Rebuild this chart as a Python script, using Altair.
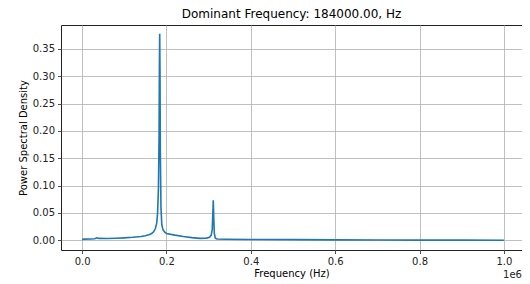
import altair as alt
import pandas as pd

freq_hz = [0, 5000, 20000, 30000, 35000, 40000, 60000, 80000, 100000, 120000,
           140000, 150000, 160000, 165000, 170000, 174000, 177000, 179000, 181000,
           182500, 183300, 184000, 184700, 185500, 187000, 189000, 192000, 196000,
           200000, 220000, 240000, 260000, 280000, 295000, 302000, 306000, 308500,
           310000, 311000, 312000, 313500, 316000, 320000, 340000, 400000, 500000,
           600000, 700000, 800000, 900000, 1000000]
psd = [0.0018, 0.0022, 0.0025, 0.0030, 0.0045, 0.0035, 0.0034, 0.0038, 0.0045, 0.0055,
       0.0070, 0.0082, 0.0105, 0.0125, 0.0160, 0.0220, 0.0320, 0.0500, 0.0950,
       0.1900, 0.3200, 0.3776, 0.3100, 0.1600, 0.0600, 0.0280, 0.0190, 0.0150,
       0.0125, 0.0095, 0.0070, 0.0050, 0.0035, 0.0040, 0.0055, 0.0090, 0.0200,
       0.0500, 0.0730, 0.0450, 0.0120, 0.0040, 0.0025, 0.0020, 0.0015, 0.0012,
       0.0008, 0.0006, 0.0004, 0.0003, 0.0002]

df = pd.DataFrame({"f": freq_hz, "p": psd})

W, H = 461, 225
xdom = [-50000, 1050000 - 3 * 1e6 / 422]

line = alt.Chart(df).mark_line(color="#1f77b4", strokeWidth=1.6, clip=True).encode(
    x=alt.X("f:Q", scale=alt.Scale(domain=xdom, nice=False, zero=False),
            axis=alt.Axis(values=[0, 200000, 400000, 600000, 800000, 1000000],
                          labelExpr="format(datum.value/1e6, '.1f')",
                          title="Frequency (Hz)", titlePadding=2)),
    y=alt.Y("p:Q", scale=alt.Scale(domain=[-0.0177, 0.3936], nice=False, zero=False),
            axis=alt.Axis(values=[0, 0.05, 0.1, 0.15, 0.2, 0.25, 0.3, 0.35],
                          format=".2f", title="Power Spectral Density",
                          titlePadding=4)),
)

offset = alt.Chart(pd.DataFrame({"t": ["1e6"]})).mark_text(
    align="right", baseline="top", fontSize=10, font="DejaVu Sans", color="#222"
).encode(x=alt.value(W), y=alt.value(H + 20), text="t:N")

chart = alt.layer(line, offset).properties(
    width=W, height=H,
    title=alt.TitleParams("Dominant Frequency: 184000.00, Hz", fontSize=12,
                          font="DejaVu Sans", fontWeight="normal", color="#000",
                          offset=4),
    autosize=alt.AutoSizeParams(type="none"),
    padding={"left": 53, "top": 17, "right": 0, "bottom": 32},
).configure_view(stroke="#222", strokeWidth=1).configure_axis(
    labelFont="DejaVu Sans", labelFontSize=10, labelColor="#222",
    titleFont="DejaVu Sans", titleFontSize=10, titleFontWeight="normal", titleColor="#000",
    gridColor="#b0b0b0", gridWidth=0.8, gridOpacity=1,
    tickColor="#222", tickSize=3.5, tickWidth=0.8, labelPadding=3,
    domain=False,
)

chart.save("out.html", embed_options={"renderer": "svg", "actions": False})
